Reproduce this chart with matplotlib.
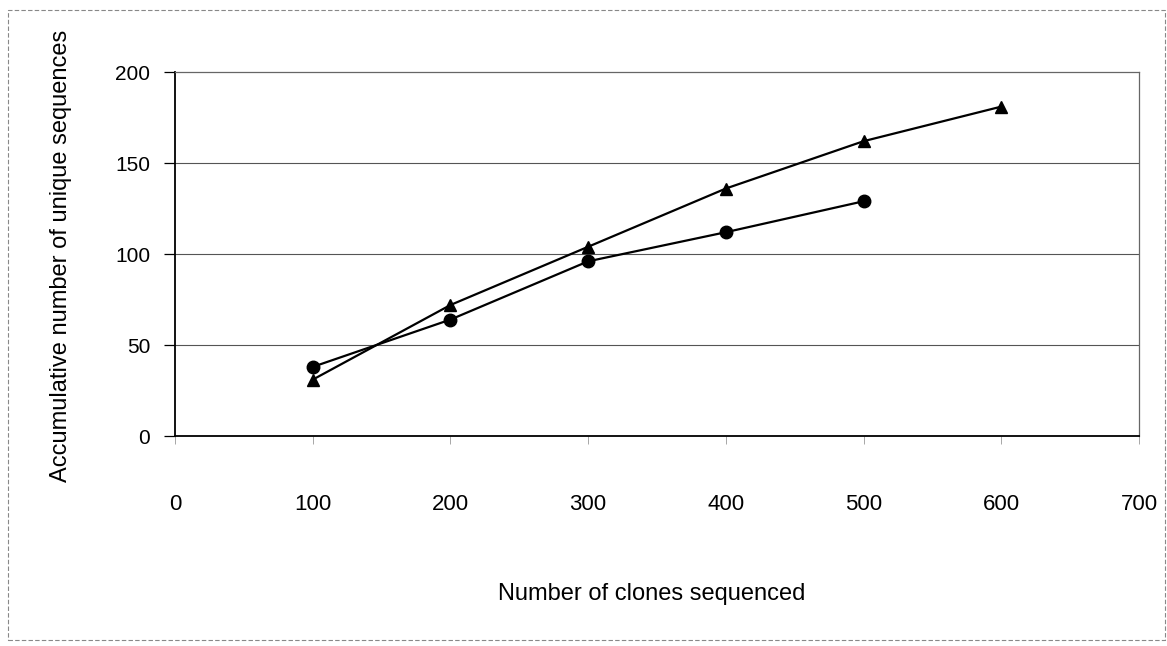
import matplotlib.pyplot as plt
from matplotlib.patches import Rectangle

# data
clones = [100, 200, 300, 400, 500, 600]
seq_triangle = [31, 72, 104, 136, 162, 181]
clones_circle = [100, 200, 300, 400, 500]
seq_circle = [38, 64, 96, 112, 129]

x_ticks = [0, 100, 200, 300, 400, 500, 600, 700]
y_ticks = [0, 50, 100, 150, 200]

plt.rcParams['font.family'] = ['Liberation Sans', 'DejaVu Sans']

fig = plt.figure(figsize=(11.67, 6.46), dpi=100)
ax = fig.add_axes([0.150, 0.325, 0.826, 0.5635])

# grid lines (Excel style)
for v in y_ticks[1:-1]:
    ax.axhline(v, color='#555555', lw=0.8, zorder=1)

ax.plot(clones, seq_triangle, color='black', lw=1.6, marker='^',
        markersize=9, zorder=3, clip_on=False)
ax.plot(clones_circle, seq_circle, color='black', lw=1.6, marker='o',
        markersize=9, zorder=3, clip_on=False)

ax.set_xlim(0, 700)
ax.set_ylim(0, 200)
ax.set_xticks(x_ticks)
ax.set_yticks(y_ticks)

ax.spines['left'].set_color('black')
ax.spines['bottom'].set_color('black')
ax.spines['left'].set_linewidth(1.3)
ax.spines['bottom'].set_linewidth(1.3)
ax.spines['top'].set_color('#666666')
ax.spines['right'].set_color('#666666')
ax.spines['top'].set_linewidth(0.9)
ax.spines['right'].set_linewidth(0.9)

ax.tick_params(axis='y', direction='out', length=8, width=0.9,
               labelsize=15, pad=10, colors='black')
ax.tick_params(axis='x', direction='out', length=6, width=0.6,
               labelsize=16, pad=36, color='#999999')

ax.set_xlabel('Number of clones sequenced', fontsize=17, va='top')
ax.xaxis.set_label_coords(0.494, -0.405)
ax.set_ylabel('Accumulative number of unique sequences', fontsize=17,
              va='bottom')
ax.yaxis.set_label_coords(-0.107, 0.495)

# outer chart border
fig.patches.append(Rectangle((0.007, 0.01), 0.991, 0.975,
                             transform=fig.transFigure, fill=False,
                             edgecolor='#888888', lw=0.8, ls=(0, (4, 2))))

fig.savefig('out.png', dpi=100)
